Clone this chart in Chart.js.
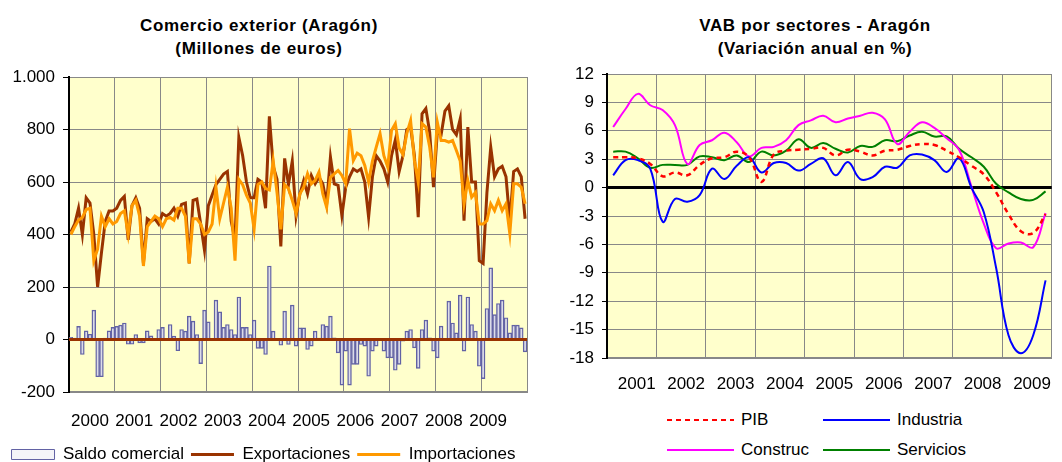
<!DOCTYPE html>
<html>
<head>
<meta charset="utf-8">
<script src="https://cdn.jsdelivr.net/npm/chart.js@4.4.0/dist/chart.umd.min.js"></script>
<style>
body { margin: 0; width: 1062px; height: 462px; overflow: hidden; background: #fff; position: relative; font-family: "Liberation Sans", Arial, sans-serif; }
.title { position: absolute; top: 14px; width: 420px; text-align: center; font-weight: bold; font-size: 17px; letter-spacing: 0.65px; line-height: 23px; color: #000; }
#box1 { position: absolute; left: 0; top: 0; width: 540px; height: 473px; }
#box2 { position: absolute; left: 545px; top: 0; width: 517px; height: 400px; }
.item { position: absolute; height: 22px; display: flex; align-items: center; font-size: 17px; color: #000; white-space: nowrap; }
.item svg { margin-right: 7px; }
</style>
</head>
<body>
<div class="title" style="left:49px">Comercio exterior (Aragón)<br>(Millones de euros)</div>
<div class="title" style="left:605px">VAB por sectores - Aragón<br>(Variación anual en %)</div>
<div id="box1"><canvas id="comercio" width="540" height="473"></canvas></div>
<div id="box2"><canvas id="vab" width="517" height="400"></canvas></div>
<div id="legend2"></div>
<script>
// Comercio exterior, datos mensuales 2000-2009
var years = ['2000', '2001', '2002', '2003', '2004', '2005', '2006', '2007', '2008', '2009'];
var comercioTicks = [-200, 0, 200, 400, 600, 800, 1000];

var saldo = [
    8, 5, 50, -57, 33, 20, 112, -142, -142, 5, 33, 46,
    50, 55, 63, -18, -18, 19, -13, -13, 33, 14, -2, 38,
    46, -3, 57, 13, -43, 38, 32, 89, 70, 19, -92, 112,
    67, 0, 150, 105, 46, 57, 38, 19, 162, 46, 46, 19,
    74, -34, -34, -57, 280, 32, -3, -22, 108, -19, 131, -25,
    44, 44, -38, -25, 32, 5, 57, 51, 89, 6, -51, -174,
    -44, -174, -95, -95, -19, -25, -140, -44, -25, 0, -44, -70,
    -70, -117, -95, -6, 32, 38, -32, -110, 38, 74, 6, -44,
    -70, 51, 0, 146, 63, 25, 169, -44, 162, 57, 32, -102,
    -149, 118, 273, 95, 137, 150, 83, 25, 55, 55, 44, -47
];
var exportaciones = [
    410, 440, 500, 400, 540, 520, 400, 200, 330, 450, 490, 490,
    500, 530, 545, 380, 510, 540, 500, 290, 460, 450, 460, 440,
    480, 470, 480, 500, 470, 515, 520, 290, 530, 535, 440, 340,
    510, 550, 590, 610, 630, 640, 450, 380, 770, 700, 600, 540,
    540, 610, 600, 500, 850, 660, 610, 355, 690, 590, 680, 470,
    555, 606, 555, 625, 593, 618, 593, 517, 695, 593, 587, 472,
    580, 620, 650, 640, 650, 600, 466, 620, 700, 680, 650, 600,
    700, 760, 640, 700, 800, 810, 700, 466, 860, 880, 790, 580,
    790, 780, 870, 890, 800, 780, 840, 453, 809, 600, 600, 300,
    290, 560, 733, 620, 650, 660, 620, 450, 640, 650, 620, 460
];
var importaciones = [
    400, 430, 455, 465, 495, 500, 300, 345, 470, 430, 460, 440,
    450, 480, 490, 400, 510, 530, 470, 280, 430, 450, 470, 460,
    430, 460, 465, 455, 500, 500, 470, 290, 460, 460, 440, 400,
    410, 440, 580, 460, 520, 580, 500, 300, 610, 590, 550, 520,
    420, 590, 600, 575, 570, 680, 560, 420, 590, 575, 530, 480,
    555, 580, 631, 593, 606, 638, 555, 504, 618, 631, 644, 625,
    593, 803, 682, 710, 700, 663, 600, 680, 733, 784, 700, 657,
    796, 822, 730, 705, 784, 834, 682, 600, 822, 809, 733, 618,
    828, 758, 758, 752, 758, 720, 680, 517, 606, 542, 560, 440,
    440, 453, 517, 491, 530, 491, 517, 403, 593, 593, 580, 517
];

// VAB por sectores, datos trimestrales 2001-2009
var sectorYears = ['2001', '2002', '2003', '2004', '2005', '2006', '2007', '2008', '2009'];
var vabTicks = [-18, -15, -12, -9, -6, -3, 0, 3, 6, 9, 12];
var pib = [3.2, 3.2, 3.1, 2.5, 1.2, 1.6, 1.3, 2.4, 3.1, 3.2, 3.8, 3.2,
    0.6, 3.5, 3.9, 4.0, 4.1, 4.2, 3.4, 4.0, 3.8, 3.4, 3.9, 4.0,
    4.4, 4.6, 4.5, 3.9, 3.2, 2.3, 1.4, -0.5, -2.8, -4.6, -4.8, -2.8];
var industria = [1.3, 2.9, 2.9, 2.0, -3.6, -1.2, -1.5, -0.8, 2.0, 0.9, 2.3, 3.2,
    1.6, 2.6, 2.6, 1.8, 2.5, 3.1, 1.3, 2.7, 0.9, 1.1, 2.2, 2.1,
    3.4, 3.5, 2.9, 1.65, 3.1, 0, -2.6, -8.5, -15.6, -17.5, -15.6, -9.8];
var construc = [6.4, 8.3, 9.9, 8.7, 8.2, 6.6, 2.5, 4.5, 5.0, 5.8, 4.8, 3.3,
    4.2, 4.3, 5.0, 6.6, 7.1, 7.6, 6.9, 7.3, 7.6, 7.9, 7.2, 4.6,
    5.9, 6.9, 6.3, 5.2, 4.0, 0.1, -3.8, -6.4, -5.9, -5.8, -6.3, -2.7];
var servicios = [3.8, 3.8, 3.1, 2.1, 2.4, 2.4, 2.4, 3.3, 3.2, 2.9, 3.4, 2.7,
    3.8, 3.4, 3.9, 5.1, 4.2, 4.7, 4.1, 3.7, 4.4, 4.3, 5.0, 4.9,
    5.5, 5.9, 5.4, 5.4, 4.1, 3.2, 2.2, 0.4, -0.5, -1.2, -1.3, -0.4];

Chart.defaults.font.family = '"Liberation Sans", Arial, sans-serif';
Chart.defaults.font.size = 17;
Chart.defaults.color = '#000';

var plotBg = {
    id: 'plotBg',
    beforeDraw: function(chart) {
        var a = chart.chartArea, ctx = chart.ctx;
        ctx.save();
        ctx.fillStyle = '#ffffcc';
        ctx.fillRect(a.left, a.top, a.right - a.left, a.bottom - a.top);
        ctx.restore();
    }
};

function hLine(chart, color, width) {
    var a = chart.chartArea, ctx = chart.ctx;
    var y = chart.scales.y.getPixelForValue(0);
    ctx.save();
    ctx.strokeStyle = color;
    ctx.lineWidth = width;
    ctx.beginPath();
    ctx.moveTo(a.left, y);
    ctx.lineTo(a.right, y);
    ctx.stroke();
    ctx.restore();
}

// x positions: each value sits in the middle of its month / quarter
function slots(n) {
    var out = [];
    for (var i = 0; i < n; i++) out.push(i + 0.5);
    return out;
}

// grid ticks at year boundaries, label ticks where the year text goes
function yearTicks(labels, per, start, step) {
    return function(s) {
        var t = [];
        for (var i = 0; i <= labels.length; i++) t.push({value: i * per});
        labels.forEach(function(y, i) { t.push({value: start + i * step, yr: y}); });
        s.ticks = t;
    };
}

function gridColor(c) {
    return c.tick && c.tick.yr ? 'rgba(0,0,0,0)' : '#888888';
}

function thousands(v) {
    return String(v).replace(/\B(?=(\d{3})+(?!\d))/g, '.');
}

new Chart(document.getElementById('comercio'), {
    type: 'bar',
    data: {
        labels: slots(saldo.length),
        datasets: [{
            type: 'bar',
            label: 'Saldo comercial',
            data: saldo,
            backgroundColor: '#dcdce8',
            borderColor: '#6262a4',
            borderWidth: 1.4,
            borderSkipped: false,
            barPercentage: 1,
            categoryPercentage: 1,
            order: 2
        }, {
            type: 'line',
            label: 'Exportaciones',
            data: exportaciones,
            borderColor: '#993300',
            backgroundColor: '#993300',
            borderWidth: 3,
            pointRadius: 0,
            tension: 0,
            order: 1
        }, {
            type: 'line',
            label: 'Importaciones',
            data: importaciones,
            borderColor: '#ff9900',
            backgroundColor: '#ff9900',
            borderWidth: 3,
            pointRadius: 0,
            tension: 0,
            order: 0
        }]
    },
    options: {
        responsive: false,
        animation: false,
        events: [],
        layout: { padding: { top: 77, right: 13, bottom: 0, left: 0 } },
        scales: {
            x: {
                type: 'linear',
                min: 0,
                max: 120,
                offset: false,
                afterBuildTicks: yearTicks(years, 12, 5.5, 11.59),
                afterFit: function(s) { s.height = 47; },
                grid: { color: gridColor, drawTicks: false, offset: false },
                border: { color: '#888888', width: 2 },
                ticks: {
                    autoSkip: false,
                    maxRotation: 0,
                    padding: 19,
                    callback: function(v, i, t) { return t[i].yr || ''; }
                }
            },
            y: {
                min: -200,
                max: 1000,
                afterBuildTicks: function(s) {
                    s.ticks = comercioTicks.map(function(v) { return {value: v}; });
                },
                afterFit: function(s) { s.width = 69; },
                grid: { color: '#888888', tickColor: '#000', tickLength: 6 },
                border: { color: '#000', width: 2 },
                ticks: { padding: 8, callback: thousands }
            }
        },
        plugins: {
            title: { display: false },
            tooltip: { enabled: false },
            legend: {
                position: 'bottom',
                labels: {
                    usePointStyle: true,
                    pointStyleWidth: 43,
                    boxHeight: 10,
                    padding: 7,
                    generateLabels: function(chart) {
                        var items = Chart.defaults.plugins.legend.labels.generateLabels(chart);
                        items.sort(function(a, b) { return a.datasetIndex - b.datasetIndex; });
                        items.forEach(function(it) {
                            it.pointStyle = it.datasetIndex === 0 ? 'rect' : 'line';
                            if (it.datasetIndex === 0) { it.fillStyle = '#f4f4f8'; it.lineWidth = 1; }
                        });
                        return items;
                    }
                }
            }
        }
    },
    plugins: [plotBg, {
        id: 'zeroBrown',
        afterDatasetDraw: function(chart, args) {
            if (args.index === 0) hLine(chart, '#993300', 3);
        }
    }]
});

var vabChart = new Chart(document.getElementById('vab'), {
    type: 'line',
    data: {
        labels: slots(pib.length),
        datasets: [{
            label: 'PIB',
            data: pib,
            borderColor: '#ff0000',
            borderDash: [5, 4],
            borderWidth: 2.5
        }, {
            label: 'Industria',
            data: industria,
            borderColor: '#0000ff',
            borderWidth: 2
        }, {
            label: 'Construc',
            data: construc,
            borderColor: '#ff00ff',
            borderWidth: 2
        }, {
            label: 'Servicios',
            data: servicios,
            borderColor: '#008000',
            borderWidth: 2
        }]
    },
    options: {
        responsive: false,
        animation: false,
        events: [],
        elements: { point: { radius: 0 }, line: { tension: 0.4 } },
        layout: { padding: { top: 74, right: 1, bottom: 0, left: 0 } },
        scales: {
            x: {
                type: 'linear',
                min: 0,
                max: 36,
                afterBuildTicks: yearTicks(sectorYears, 4, 2, 4),
                afterFit: function(s) { s.height = 42; },
                grid: { color: gridColor, drawTicks: false, offset: false },
                border: { color: '#888888', width: 2 },
                ticks: {
                    autoSkip: false,
                    maxRotation: 0,
                    padding: 16,
                    labelOffset: 5,
                    callback: function(v, i, t) { return t[i].yr || ''; }
                }
            },
            y: {
                min: -18,
                max: 12,
                afterBuildTicks: function(s) {
                    s.ticks = vabTicks.map(function(v) { return {value: v}; });
                },
                afterFit: function(s) { s.width = 62; },
                grid: { color: '#888888', tickColor: '#000', tickLength: 5 },
                border: { color: '#000', width: 2 },
                ticks: { padding: 8 }
            }
        },
        plugins: {
            legend: { display: false },
            tooltip: { enabled: false }
        }
    },
    plugins: [plotBg, {
        id: 'zeroBlack',
        beforeDatasetsDraw: function(chart) { hLine(chart, '#000', 3); }
    }]
});

// legend of the right chart, two columns
var leg = document.getElementById('legend2');
vabChart.data.datasets.forEach(function(ds, i) {
    var item = document.createElement('div');
    item.className = 'item';
    item.style.left = (i % 2 ? 823 : 667) + 'px';
    item.style.top = (i < 2 ? 409 : 439) + 'px';
    item.innerHTML = '<svg width="67" height="22"><line x1="0" y1="11" x2="67" y2="11" stroke="' + ds.borderColor +
        '" stroke-width="2"' + (ds.borderDash ? ' stroke-dasharray="' + ds.borderDash.join(',') + '"' : '') +
        '/></svg><span>' + ds.label + '</span>';
    leg.appendChild(item);
});
</script>
</body>
</html>
